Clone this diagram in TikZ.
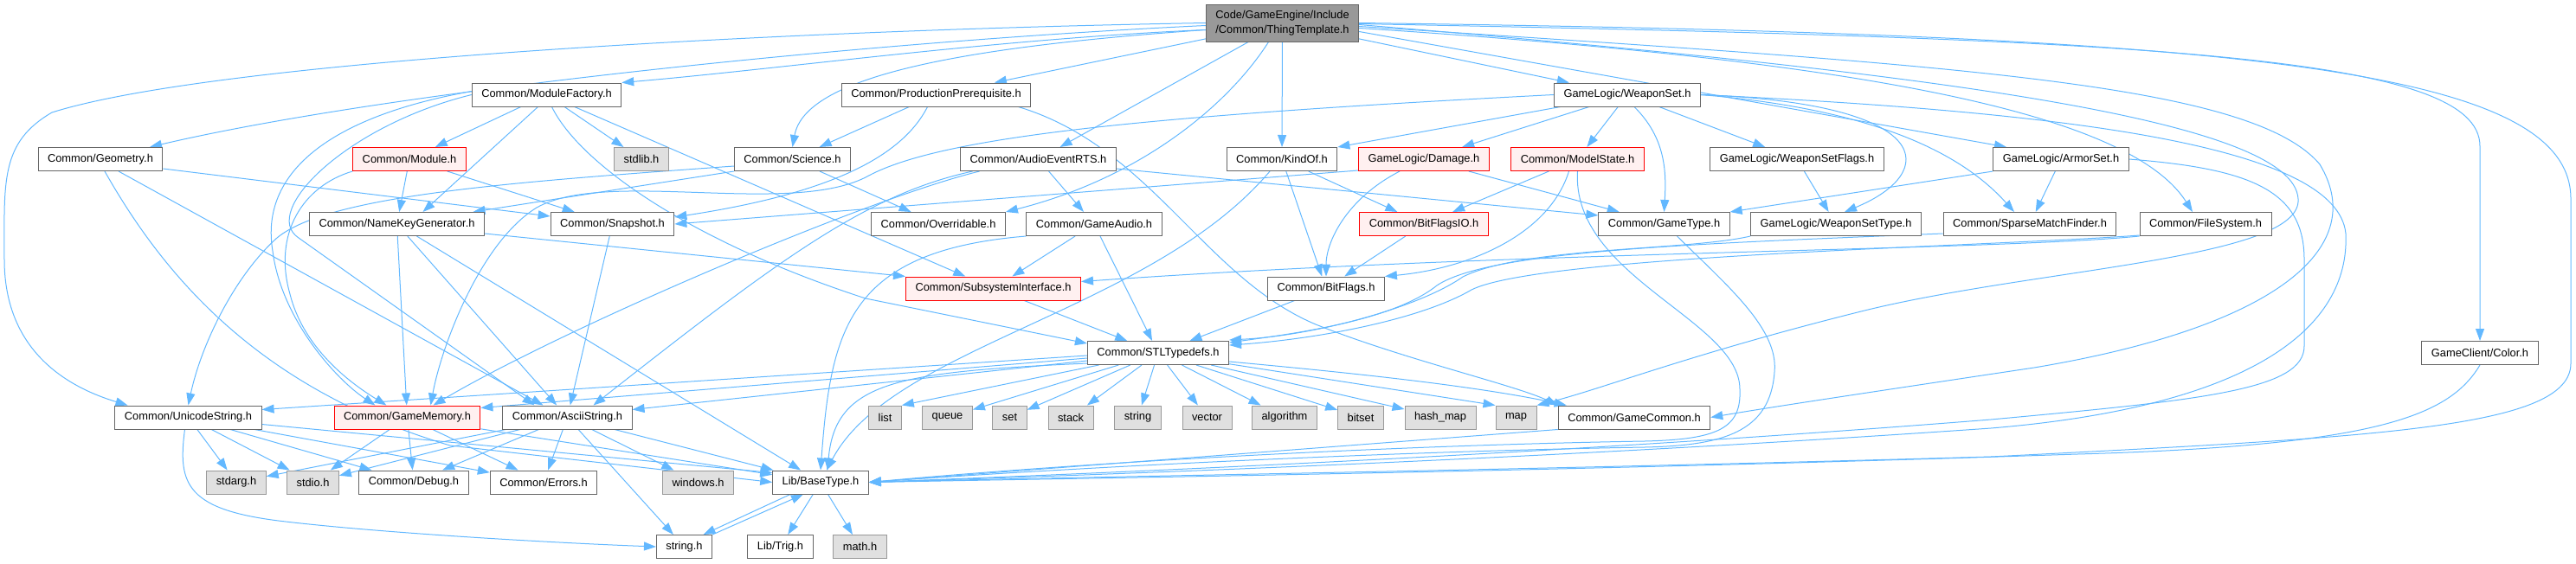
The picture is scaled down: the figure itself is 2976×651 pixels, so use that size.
\documentclass[tikz,border=0pt]{standalone}
\usepackage{fontspec}
\setmainfont{Liberation Sans}
\usetikzlibrary{
    arrows.meta
}
\definecolor{edgeblue}{HTML}{63B8FF}
\definecolor{boxgray}{HTML}{666666}
\definecolor{rootfill}{HTML}{999999}
\definecolor{redfill}{HTML}{FFF0F0}
\definecolor{sysfill}{HTML}{E0E0E0}
\definecolor{sysline}{HTML}{999999}
\pgfdeclarelayer{background}
\pgfsetlayers{background,main}

\begin{document}
\begin{tikzpicture}[
    x=1pt, y=-1pt,
    hfile/.style={
        draw=boxgray, fill=white, rectangle, minimum height=27pt,
        inner xsep=11pt, line width=1pt, font=\fontsize{12.85}{15}\selectfont
    },
    hred/.style={hfile, draw=red, fill=redfill},
    hsys/.style={hfile, draw=sysline, fill=sysfill},
    hroot/.style={
        hfile, fill=rootfill, minimum height=43pt, align=left,
        font=\fontsize{12.85}{16.5}\selectfont
    },
    arrow/.style={-{Triangle[length=14pt,width=10pt]}, draw=edgeblue, line width=1pt}
]

\useasboundingbox (0,0) rectangle (2976,651);

% Define positioning (row heights)
\pgfmathsetmacro{\yA}{109.5}
\pgfmathsetmacro{\yB}{184}
\pgfmathsetmacro{\yC}{259}
\pgfmathsetmacro{\yD}{333.5}
\pgfmathsetmacro{\yE}{408}
\pgfmathsetmacro{\yF}{482.5}
\pgfmathsetmacro{\yG}{557.5}
\pgfmathsetmacro{\yH}{632}

% ============================== NODES ==============================
% NODES: the documented header
\node[hroot] (tt) at (1481.5,26.5) {Code/GameEngine/Include\\/Common/ThingTemplate.h};

% NODES: first level
\node[hfile] (mf) at (631.5,\yA) {Common/ModuleFactory.h};
\node[hfile] (pp) at (1081.5,\yA) {Common/ProductionPrerequisite.h};
\node[hfile] (ws) at (1880,\yA) {GameLogic/WeaponSet.h};

\node[hfile] (geom) at (116,\yB) {Common/Geometry.h};
\node[hred] (module) at (473,\yB) {Common/Module.h};
\node[hsys] (stdlib) at (741,\yB) {stdlib.h};
\node[hfile] (sci) at (915.5,\yB) {Common/Science.h};
\node[hfile] (aer) at (1199.5,\yB) {Common/AudioEventRTS.h};
\node[hfile] (kind) at (1481,\yB) {Common/KindOf.h};
\node[hred] (damage) at (1645,\yB) {GameLogic/Damage.h};
\node[hred] (mstate) at (1822.5,\yB) {Common/ModelState.h};
\node[hfile] (wsflags) at (2076,\yB) {GameLogic/WeaponSetFlags.h};
\node[hfile] (armor) at (2381,\yB) {GameLogic/ArmorSet.h};

% NODES: middle levels
\node[hfile] (nkg) at (458.5,\yC) {Common/NameKeyGenerator.h};
\node[hfile] (snap) at (707.5,\yC) {Common/Snapshot.h};
\node[hfile] (over) at (1084,\yC) {Common/Overridable.h};
\node[hfile] (gaudio) at (1264,\yC) {Common/GameAudio.h};
\node[hred] (bfio) at (1645,\yC) {Common/BitFlagsIO.h};
\node[hfile] (gtype) at (1922.5,\yC) {Common/GameType.h};
\node[hfile] (wstype) at (2121,\yC) {GameLogic/WeaponSetType.h};
\node[hfile] (smf) at (2345,\yC) {Common/SparseMatchFinder.h};
\node[hfile] (fs) at (2548,\yC) {Common/FileSystem.h};

\node[hred] (subsys) at (1147.5,\yD) {Common/SubsystemInterface.h};
\node[hfile] (bflags) at (1532,\yD) {Common/BitFlags.h};

\node[hfile] (stl) at (1338,\yE) {Common/STLTypedefs.h};
\node[hfile] (color) at (2865,\yE) {GameClient/Color.h};

% NODES: low level headers
\node[hfile] (uni) at (217.5,\yF) {Common/UnicodeString.h};
\node[hred] (gmem) at (470.5,\yF) {Common/GameMemory.h};
\node[hfile] (ascii) at (655.5,\yF) {Common/AsciiString.h};
\node[hsys] (slist) at (1022.5,\yF) {list};
\node[hsys] (squeue) at (1094.5,\yF) {queue};
\node[hsys] (sset) at (1166.5,\yF) {set};
\node[hsys] (sstack) at (1237,\yF) {stack};
\node[hsys] (sstring) at (1314.5,\yF) {string};
\node[hsys] (svector) at (1394.5,\yF) {vector};
\node[hsys] (salgo) at (1484,\yF) {algorithm};
\node[hsys] (sbitset) at (1572,\yF) {bitset};
\node[hsys] (shashmap) at (1664,\yF) {hash\_map};
\node[hsys] (smap) at (1751.5,\yF) {map};
\node[hfile] (gcommon) at (1888,\yF) {Common/GameCommon.h};

\node[hsys] (stdarg) at (273,\yG) {stdarg.h};
\node[hsys] (stdio) at (361.5,\yG) {stdio.h};
\node[hfile] (debug) at (478,\yG) {Common/Debug.h};
\node[hfile] (errors) at (628,\yG) {Common/Errors.h};
\node[hsys] (windows) at (806.5,\yG) {windows.h};
\node[hfile] (base) at (948,\yG) {Lib/BaseType.h};

\node[hfile] (stringh) at (790.5,\yH) {string.h};
\node[hfile] (trig) at (901.5,\yH) {Lib/Trig.h};
\node[hsys] (mathh) at (993.5,\yH) {math.h};

% ============================== EDGES ==============================
\begin{pgfonlayer}{background}
% EDGES: from the documented header
\draw[arrow] (tt.west) .. controls (900,35) and (250,70) .. (60,130) .. controls (0,165) and (5,210) .. (5,300) .. controls (5,400) and (70,445) .. ([xshift=-70pt]uni.north);
\draw[arrow] ([yshift=-3pt]tt.west) .. controls (1000,48) and (450,105) .. ([xshift=57pt]geom.north);
\draw[arrow] ([yshift=-8pt]tt.west) .. controls (1150,45) and (900,80) .. (mf.north east);
\draw[arrow] ([yshift=-8pt]tt.west) .. controls (1100,55) and (930,90) .. (sci.north);
\draw[arrow] (tt) -- (pp);
\draw[arrow] (tt) -- (aer);
\draw[arrow] (tt) -- (kind);
\draw[arrow] ([xshift=-16pt]tt.south) .. controls (1420,120) and (1320,205) .. (over.north east);
\draw[arrow] (tt) -- (ws);
\draw[arrow] ([yshift=-10pt]tt.east) -- ([xshift=-63pt]armor.north);
\draw[arrow] ([yshift=-6pt]tt.east) .. controls (2150,70) and (2460,130) .. ([xshift=-15pt]fs.north);
\draw[arrow] ([yshift=-1pt]tt.east) .. controls (2500,45) and (2865,65) .. ([yshift=225pt]color.north) -- (color.north);
\draw[arrow] (tt.east) .. controls (2600,40) and (2970,80) .. (2970,230) -- (2970,420) .. controls (2970,495) and (2750,505) .. (2300,528) .. controls (1700,545) and (1300,550) .. (base.east);
\draw[arrow] ([yshift=-4pt]tt.east) .. controls (2250,75) and (2600,95) .. (2680,190) .. controls (2740,290) and (2620,380) .. (2350,425) .. controls (2150,455) and (2050,470) .. (gcommon.east);
\draw[arrow] ([yshift=-2pt]tt.east) .. controls (2250,85) and (2650,140) .. (2655,230) .. controls (2660,300) and (2350,310) .. (2150,360) .. controls (1950,410) and (1850,450) .. (smap.north east);

% EDGES: module factory and module
\draw[arrow] (mf) -- (module);
\draw[arrow] (mf) -- (stdlib);
\draw[arrow] ([xshift=-10pt]mf.south) -- ([xshift=30pt]nkg.north);
\draw[arrow] ([yshift=4pt]mf.west) .. controls (380,135) and (300,200) .. (315,290) .. controls (325,370) and (390,440) .. ([xshift=-37pt]gmem.north);
\draw[arrow] (mf.west) .. controls (400,145) and (300,245) .. (345,275) -- ([xshift=-38pt]ascii.north);
\draw[arrow] (mf) -- (subsys);
\draw[arrow] ([xshift=6pt]mf.south) .. controls (670,190) and (800,280) .. (1000,345) -- ([yshift=-3pt]stl.north west);
\draw[arrow] (module) -- (nkg);
\draw[arrow] (module) -- (snap);
\draw[arrow] (module.south west) .. controls (350,215) and (315,270) .. (335,340) .. controls (350,400) and (400,440) .. ([xshift=-24pt]gmem.north);

% EDGES: geometry, name keys, snapshot, science
\draw[arrow] ([yshift=-11pt]geom.east) -- ([yshift=9pt]snap.west);
\draw[arrow] ([xshift=21pt]geom.south) -- ([xshift=-28pt]ascii.north);
\draw[arrow] ([xshift=5pt]geom.south) .. controls (190,320) and (300,450) .. (520,515) -- (base.west);
\draw[arrow] (nkg) -- (gmem);
\draw[arrow] (nkg) -- (ascii);
\draw[arrow] (nkg) -- (base);
\draw[arrow] ([yshift=-11pt]nkg.east) -- (subsys.north west);
\draw[arrow] (snap) -- (ascii);
\draw[arrow] ([yshift=-8pt]sci.west) .. controls (600,210) and (380,225) .. (320,275) .. controls (270,320) and (232,400) .. (uni.north);
\draw[arrow] (sci.south west) -- ([xshift=88pt]nkg.north);
\draw[arrow] (sci) -- (over);

% EDGES: production prerequisite, audio
\draw[arrow] (pp) -- (sci);
\draw[arrow] ([xshift=-10pt]pp.south) .. controls (1040,185) and (950,225) .. ([yshift=8pt]snap.east);
\draw[arrow] ([xshift=95pt]pp.south) .. controls (1330,170) and (1390,320) .. (1520,375) .. controls (1620,415) and (1750,445) .. (gcommon.north west);
\draw[arrow] ([yshift=-11pt]aer.east) -- ([yshift=10pt]gtype.west);
\draw[arrow] (aer) -- (gaudio);
\draw[arrow] ([xshift=-68pt]aer.south) .. controls (1000,230) and (650,380) .. ([xshift=30pt]gmem.north);
\draw[arrow] ([xshift=-76pt]aer.south) .. controls (1000,225) and (900,300) .. ([xshift=30pt]ascii.north);
\draw[arrow] (gaudio) -- (subsys);
\draw[arrow] (gaudio) -- (stl);
\draw[arrow] (gaudio.south west) .. controls (980,290) and (960,380) .. (base.north);

% EDGES: kind of, damage, model state, game type
\draw[arrow] ([xshift=-14pt]kind.south) .. controls (1330,360) and (1030,400) .. ([xshift=7pt]base.north);
\draw[arrow] (kind) -- (bflags);
\draw[arrow] (kind) -- (bfio);
\draw[arrow] ([yshift=-13pt]damage.west) -- (snap.east);
\draw[arrow] ([xshift=-28pt]damage.south) .. controls (1555,230) and (1532,280) .. (bflags.north);
\draw[arrow] (damage) -- (gtype);
\draw[arrow] (mstate) -- (bfio);
\draw[arrow] ([xshift=-10pt]mstate.south) .. controls (1790,270) and (1700,310) .. (bflags.north east);
\draw[arrow] (mstate.south) .. controls (1815,320) and (2010,370) .. (2010,450) .. controls (2012,495) and (1985,508) .. (1900,510) .. controls (1600,515) and (1250,535) .. (base.east);
\draw[arrow] ([xshift=15pt]gtype.south) .. controls (1995,330) and (2055,380) .. (2050,430) .. controls (2045,500) and (1990,515) .. (1900,517) .. controls (1600,522) and (1250,540) .. (base.east);
\draw[arrow] (bfio) -- (bflags);
\draw[arrow] (bflags) -- (stl);
\draw[arrow] (subsys) -- (stl);

% EDGES: weapon set
\draw[arrow] (ws) -- (kind.north east);
\draw[arrow] (ws) -- (damage);
\draw[arrow] (ws) -- (mstate);
\draw[arrow] ([xshift=8pt]ws.south) .. controls (1925,160) and (1925,200) .. (gtype.north);
\draw[arrow] (ws) -- (wsflags);
\draw[arrow] (ws.east) .. controls (2240,120) and (2240,200) .. ([xshift=10pt]wstype.north);
\draw[arrow] (ws.east) .. controls (2150,125) and (2260,170) .. ([xshift=-18pt]smf.north);
\draw[arrow] (ws.west) .. controls (1300,135) and (1080,160) .. (1000,205) .. controls (910,250) and (700,195) .. (620,240) .. controls (555,280) and (510,400) .. ([xshift=27pt]gmem.north);
\draw[arrow] (ws.east) .. controls (2400,130) and (2700,170) .. (2710,270) .. controls (2715,380) and (2600,470) .. (2300,495) .. controls (1800,530) and (1300,548) .. (base.east);

% EDGES: armor set, sparse match finder, file system, color
\draw[arrow] (armor) -- (smf);
\draw[arrow] (armor.south west) -- (gtype.north east);
\draw[arrow] (armor.east) .. controls (2600,195) and (2662,220) .. (2662,300) -- (2662,400) .. controls (2662,450) and (2550,462) .. (2300,485) .. controls (1800,525) and (1300,546) .. (base.east);
\draw[arrow] (wsflags) -- (wstype);
\draw[arrow] (wstype.south west) .. controls (1950,290) and (1760,285) .. (1690,320) .. controls (1640,355) and (1520,388) .. ([yshift=15pt]stl.east);
\draw[arrow] ([yshift=-11pt]smf.west) .. controls (1950,282) and (1720,290) .. (1660,330) .. controls (1610,370) and (1500,385) .. ([yshift=12pt]stl.east);
\draw[arrow] ([yshift=-13pt]fs.west) .. controls (2300,285) and (1780,295) .. (1700,335) .. controls (1640,370) and (1520,392) .. ([yshift=9pt]stl.east);
\draw[arrow] (fs.south west) .. controls (2300,290) and (1750,290) .. ([yshift=8pt]subsys.east);
\draw[arrow] (color.south) .. controls (2830,480) and (2750,515) .. (2400,525) .. controls (1800,545) and (1300,552) .. (base.east);

% EDGES: STL typedefs
\draw[arrow] (stl) -- (slist.north east);
\draw[arrow] (stl) -- (squeue);
\draw[arrow] (stl) -- (sset);
\draw[arrow] (stl) -- (sstack);
\draw[arrow] (stl) -- (sstring);
\draw[arrow] (stl) -- (svector);
\draw[arrow] (stl) -- (salgo);
\draw[arrow] (stl) -- (sbitset);
\draw[arrow] (stl) -- (shashmap);
\draw[arrow] (stl) -- (smap.north west);
\draw[arrow] ([yshift=-3pt]stl.west) -- ([yshift=9pt]uni.east);
\draw[arrow] ([yshift=-6pt]stl.west) -- ([yshift=11pt]gmem.east);
\draw[arrow] ([yshift=-9pt]stl.west) -- ([yshift=9pt]ascii.east);
\draw[arrow] ([yshift=-12pt]stl.west) .. controls (1040,430) and (965,440) .. ([xshift=8pt]base.north);
\draw[arrow] ([yshift=-10pt]stl.east) .. controls (1550,430) and (1700,445) .. ([xshift=10pt]gcommon.north west);
\draw[arrow] (gcommon.south west) -- (base.east);

% EDGES: strings, memory
\draw[arrow] (uni) -- (stdarg);
\draw[arrow] (uni) -- (stdio);
\draw[arrow] (uni) -- (debug);
\draw[arrow] (uni) -- (errors);
\draw[arrow] ([yshift=-8pt]uni.east) -- ([yshift=11pt]base.west);
\draw[arrow] ([xshift=-4pt]uni.south) .. controls (205,560) and (215,590) .. (330,603) .. controls (450,617) and (650,628) .. (stringh.west);
\draw[arrow] (gmem) -- (stdio);
\draw[arrow] (gmem) -- (debug);
\draw[arrow] (gmem) -- (errors);
\draw[arrow] (gmem) -- (base);
\draw[arrow] (ascii) -- (stdarg);
\draw[arrow] (ascii) -- (stdio);
\draw[arrow] (ascii) -- (debug);
\draw[arrow] (ascii) -- (errors);
\draw[arrow] (ascii) -- (windows);
\draw[arrow] (ascii) -- (base);
\draw[arrow] (ascii) -- (stringh);

% EDGES: base types
\draw[arrow] ([xshift=-35pt]base.south) -- ([xshift=22pt]stringh.north);
\draw[arrow] (stringh.north east) -- ([xshift=-20pt]base.south);
\draw[arrow] (base) -- (trig);
\draw[arrow] (base) -- (mathh);
\end{pgfonlayer}

\end{tikzpicture}
\end{document}
